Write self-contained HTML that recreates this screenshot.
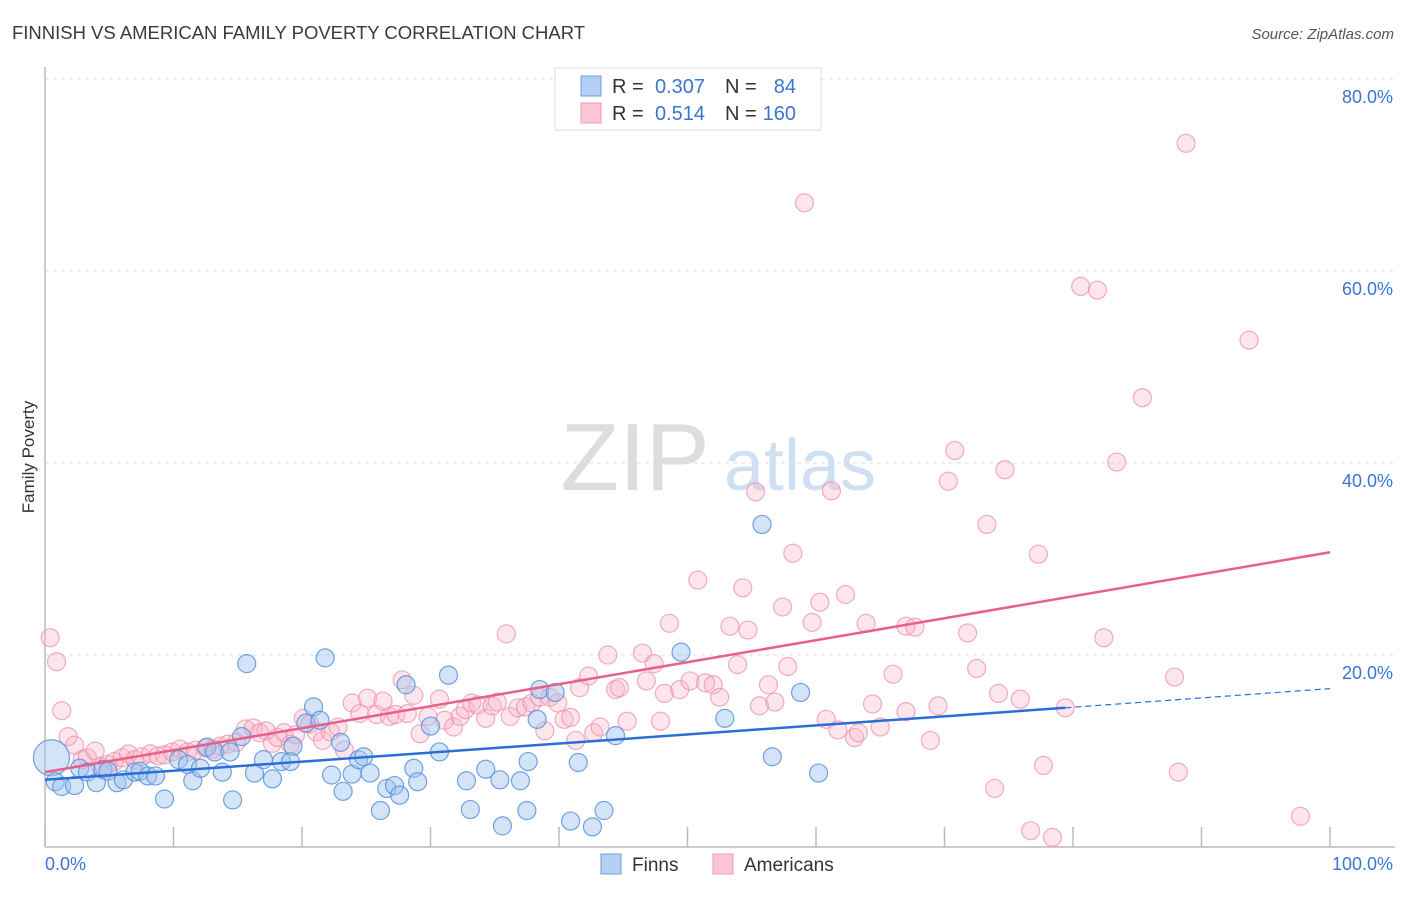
<!DOCTYPE html>
<html><head><meta charset="utf-8"><style>
body{margin:0;background:#fff;font-family:"Liberation Sans",sans-serif}
svg text{font-family:"Liberation Sans",sans-serif}
</style></head><body>
<svg id="c" width="1406" height="892" xmlns="http://www.w3.org/2000/svg">
<text x="12" y="39" font-size="18" fill="#3a3a3a" textLength="573" lengthAdjust="spacingAndGlyphs">FINNISH VS AMERICAN FAMILY POVERTY CORRELATION CHART</text>
<text x="1394" y="39" font-size="15" fill="#555" font-style="italic" text-anchor="end">Source: ZipAtlas.com</text>
<text x="34" y="457" font-size="17" fill="#333" transform="rotate(-90 34 457)" text-anchor="middle">Family Poverty</text>
<g><text x="635" y="490" font-size="96" fill="#ddd" font-family="Liberation Serif" text-anchor="middle">ZIP</text><text x="800" y="490" font-size="72" fill="#cfe0f3" text-anchor="middle">atlas</text></g>
<g id="grid"></g><g id="axes"></g><g id="pts"></g><g id="trend"></g>
<g>
<rect x="555" y="68" width="266" height="62" fill="#fff" stroke="#ddd"/>
<rect x="581" y="76" width="20" height="20" fill="#b5d0f3" stroke="#6d9ee0"/>
<rect x="581" y="103" width="20" height="20" fill="#fbc5d3" stroke="#ef9ab4"/>
<g font-size="20">
<text x="612" y="93" fill="#333">R =</text><text x="705" y="93" fill="#3a75d0" text-anchor="end">0.307</text>
<text x="725" y="93" fill="#333">N =</text><text x="796" y="93" fill="#3a75d0" text-anchor="end">84</text></g>
<g font-size="20">
<text x="612" y="120" fill="#333">R =</text><text x="705" y="120" fill="#3a75d0" text-anchor="end">0.514</text>
<text x="725" y="120" fill="#333">N =</text><text x="796" y="120" fill="#3a75d0" text-anchor="end">160</text></g>
</g>
<g>
<rect x="601" y="854" width="20" height="20" fill="#b5d0f3" stroke="#6d9ee0"/>
<text x="632" y="871" font-size="19" fill="#333">Finns</text>
<rect x="713" y="854" width="20" height="20" fill="#fbc5d3" stroke="#ef9ab4"/>
<text x="744" y="871" font-size="19" fill="#333">Americans</text>
</g>
</svg>
<script>
const yTicks=[20,40,60,80];
const yTickLabels=["20.0%","40.0%","60.0%","80.0%"];
const xTicks=[0,10,20,30,40,50,60,70,80,90,100];
const finnsX=[0.5,0.8,1.3,2.3,2.7,3.3,4.0,4.5,4.9,5.6,6.1,7.0,7.4,8.0,8.6,9.3,10.4,11.1,11.5,12.1,12.6,13.2,13.8,14.4,14.6,15.3,15.7,16.3,17.0,17.7,18.4,19.1,19.3,20.3,20.9,21.4,21.8,22.3,23.0,23.2,23.9,24.4,24.8,25.3,26.1,26.6,27.2,27.6,28.1,28.7,29.0,30.0,30.7,31.4,32.8,33.1,34.3,35.4,35.6,37.0,37.5,37.6,38.3,38.5,39.7,40.9,41.5,42.6,43.5,44.4,49.5,52.9,55.8,56.6,58.8,60.2];
const finnsY=[9.3,6.8,6.3,6.4,8.2,7.8,6.7,8.1,7.9,6.7,7.0,7.8,7.9,7.4,7.4,5.0,9.1,8.6,6.9,8.2,10.4,9.9,7.8,9.9,4.9,11.5,19.1,7.7,9.1,7.1,8.9,8.9,10.5,12.9,14.6,13.2,19.7,7.5,10.9,5.8,7.6,9.1,9.4,7.7,3.8,6.1,6.4,5.4,16.9,8.2,6.8,12.6,9.9,17.9,6.9,3.9,8.1,7.0,2.2,6.9,3.8,8.9,13.3,16.4,16.1,2.7,8.8,2.1,3.8,11.6,20.3,13.4,33.6,9.4,16.1,7.7];
const amerX=[0.4,0.9,1.3,1.8,2.3,2.9,3.3,3.9,4.3,4.9,5.4,6.0,6.5,7.0,7.5,8.2,8.8,9.3,9.9,10.5,11.1,11.7,12.5,13.1,13.6,14.2,14.9,15.6,16.2,16.7,17.2,17.7,18.1,18.6,19.1,19.5,20.1,20.6,21.1,21.6,22.2,22.8,23.3,23.9,24.5,25.1,25.8,26.3,26.8,27.3,27.8,28.2,28.7,29.2,29.8,30.7,31.1,31.8,32.3,32.7,33.2,33.7,34.3,34.8,35.2,35.9,36.2,36.8,37.4,37.9,38.5,38.9,39.3,39.9,40.4,40.9,41.3,41.6,42.3,42.7,43.2,43.8,44.4,44.7,45.3,46.5,46.8,47.4,47.9,48.2,48.6,49.4,50.2,50.8,51.4,52.0,52.5,53.3,53.9,54.3,54.7,55.3,55.6,56.3,56.8,57.4,57.8,58.2,59.1,59.7,60.3,60.8,61.2,61.7,62.3,63.0,63.3,63.9,64.4,65.0,66.0,67.0,67.0,67.7,68.9,69.5,70.3,70.8,71.8,72.5,73.3,73.9,74.2,74.7,75.9,76.7,77.3,77.7,78.4,79.4,80.6,81.9,82.4,83.4,85.4,87.9,88.2,88.8,93.7,97.7];
const amerY=[21.8,19.3,14.2,11.5,10.6,9.1,9.3,10.0,8.4,8.6,8.9,9.3,9.7,9.1,9.4,9.7,9.5,9.6,9.9,10.2,9.9,10.1,10.3,10.2,10.5,10.7,10.9,12.3,12.4,11.9,12.1,10.8,11.4,11.9,10.7,11.7,13.4,12.8,12.0,11.1,12.0,12.5,10.1,15.0,13.9,15.5,13.8,15.2,13.6,13.8,17.4,13.9,15.8,11.8,13.6,15.4,13.2,12.5,13.6,14.3,15.0,14.8,13.4,14.7,15.1,22.2,13.6,14.5,14.6,15.0,15.6,12.1,15.6,15.0,13.3,13.5,11.1,16.6,17.8,11.9,12.5,20.0,16.4,16.6,13.1,20.2,17.3,19.1,13.1,16.0,23.3,16.4,17.3,27.8,17.1,16.9,15.6,23.0,19.0,27.0,22.6,37.0,14.7,16.9,15.1,25.0,18.8,30.6,67.1,23.4,25.5,13.3,37.1,12.2,26.3,11.4,11.9,23.3,14.9,12.5,18.0,14.1,23.0,22.9,11.1,14.7,38.1,41.3,22.3,18.6,33.6,6.1,16.0,39.3,15.4,1.7,30.5,8.5,1.0,14.5,58.4,58.0,21.8,40.1,46.8,17.7,7.8,73.3,52.8,3.2];
const finnsTrend=[7.0,14.5,16.5];
const finnsTrendX=[0,79.4,100];
const amerTrend=[7.8,30.7];
const amerTrendX=[0,100];

const NS="http://www.w3.org/2000/svg";
const X0=45,X1=1330,Y0=847,YT=79;
const sx=v=>X0+(X1-X0)*v/100;
const sy=v=>Y0-(Y0-YT)*v/80;
function mk(tag,attrs,parent){const e=document.createElementNS(NS,tag);for(const k in attrs)e.setAttribute(k,attrs[k]);parent.appendChild(e);return e;}
const grid=document.getElementById('grid'),axes=document.getElementById('axes'),pts=document.getElementById('pts'),tr=document.getElementById('trend');
yTicks.forEach((t,i)=>{
 const l=mk('line',{x1:X0,x2:1395,y1:sy(t),y2:sy(t),stroke:'#ddd','stroke-dasharray':'4,4'},grid);
 
 
 const tx=mk('text',{x:1393,y:sy(t)+24,'font-size':18,fill:'#3a75d0','text-anchor':'end'},grid);
 tx.textContent=yTickLabels[i];
 
 
});
const ya=mk('line',{x1:X0,x2:X0,y1:67,y2:Y0,stroke:'#bbb','stroke-width':1.5},axes);


const xa=mk('line',{x1:X0,x2:1395,y1:Y0,y2:Y0,stroke:'#bbb','stroke-width':1.5},axes);


xTicks.forEach(t=>{
 const l=mk('line',{x1:sx(t),x2:sx(t),y1:827,y2:Y0,stroke:'#bbb','stroke-width':1.5},axes);
 
 
});
const xl0=mk('text',{x:45,y:870,'font-size':18,fill:'#3a75d0'},axes);xl0.textContent='0.0%';


const xl1=mk('text',{x:1393,y:870,'font-size':18,fill:'#3a75d0','text-anchor':'end'},axes);xl1.textContent='100.0%';


amerX.forEach((x,i)=>{
 const c=mk('circle',{cx:sx(x),cy:sy(amerY[i]),r:9,fill:'rgba(248,180,200,0.35)',stroke:'rgba(236,140,170,0.7)','stroke-width':1.2},pts);
 
 
});
finnsX.forEach((x,i)=>{
 const c=mk('circle',{cx:sx(x),cy:sy(finnsY[i]),r:i===0?18:9,fill:'rgba(160,195,240,0.45)',stroke:'rgba(80,140,220,0.8)','stroke-width':1.2},pts);
 
 
});
const fl=mk('line',{x1:sx(finnsTrendX[0]),y1:sy(finnsTrend[0]),x2:sx(finnsTrendX[1]),y2:sy(finnsTrend[1]),stroke:'#2a6fd6','stroke-width':2.5},tr);


const fd=mk('line',{x1:sx(finnsTrendX[1]),y1:sy(finnsTrend[1]),x2:sx(finnsTrendX[2]),y2:sy(finnsTrend[2]),stroke:'#2a6fd6','stroke-width':1.2,'stroke-dasharray':'6,4'},tr);


const al=mk('line',{x1:sx(amerTrendX[0]),y1:sy(amerTrend[0]),x2:sx(amerTrendX[1]),y2:sy(amerTrend[1]),stroke:'#e8608a','stroke-width':2.5},tr);


</script>
</body></html>
